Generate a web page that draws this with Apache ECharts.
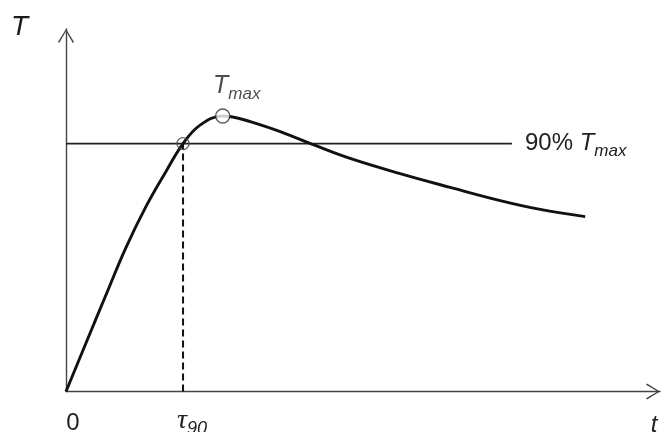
<!DOCTYPE html>
<html><head><meta charset="utf-8">
<script src="https://cdn.jsdelivr.net/npm/echarts@6/dist/echarts.min.js"></script>
<style>html,body{margin:0;padding:0;background:#fff}#c{width:661px;height:432px}</style>
</head><body><div id="c"></div>
<script>
// time values along the curve (arbitrary units)
const curveTime = [0, 3.42, 6.84, 10.26, 13.68, 17.09, 20.0, 22.91, 26.78, 31.62, 37.26, 42.0, 48.55, 57.09, 65.64, 74.19, 81.03, 88.72];
// T values (percent of Tmax)
const curveTemp = [0, 17.6, 35.1, 52.3, 67.2, 79.9, 90.0, 96.7, 100, 97.9, 93.8, 89.8, 84.6, 79.1, 74.1, 69.3, 66.1, 63.5];
const tau90 = 20;
const tPeak = 26.78;
const Tmax = 100;
const levelRatio = 0.9;
const levelLineEnd = 76.2;
const xMax = 101.5;
const yMax = 131.6;
const xTickValues = [0, 20];
const xTickLabels = ['{z|0}', '{tau|τ}{sub|90}'];
const levelLabel = '{a|90% }{t|T}{s|max}';
const peakLabel = '{t|T}{s|max}';

const level = levelRatio * Tmax;
const FONT = 'Liberation Sans';
const arrow = 'path://M8,0 L16,13 L14.8,14 L8,2.3 L1.2,14 L0,13 Z';

const chart = echarts.init(document.getElementById('c'));
chart.setOption({
  animation: false,
  backgroundColor: '#fff',
  grid: { left: 66, right: 1, top: 29, bottom: 40.5, containLabel: false, outerBoundsMode: 'none' },
  xAxis: {
    type: 'value', min: 0, max: xMax, interval: 20,
    name: 't', nameLocation: 'end', nameGap: -6,
    nameTextStyle: { fontFamily: FONT, fontSize: 24, fontStyle: 'italic', color: '#222', align: 'center', verticalAlign: 'top', padding: [22, 0, 0, 0] },
    axisLine: { show: true, symbol: ['none', arrow], symbolSize: [16, 14], symbolOffset: [0, -7], lineStyle: { color: '#444', width: 1.4 } },
    axisTick: { show: false },
    splitLine: { show: false },
    axisLabel: {
      show: true, margin: 12, showMaxLabel: false, hideOverlap: false,
      formatter: v => { const i = xTickValues.indexOf(v); return i >= 0 ? xTickLabels[i] : ''; },
      rich: {
        z: { fontFamily: FONT, fontSize: 24, color: '#222', padding: [8, 0, 0, 14] },
        tau: { fontFamily: 'Liberation Serif', fontSize: 28, fontStyle: 'italic', color: '#222', padding: [0, 0, 0, 18] },
        sub: { fontFamily: FONT, fontSize: 18, fontStyle: 'italic', color: '#222', padding: [16, 0, 0, 0] }
      }
    }
  },
  yAxis: {
    type: 'value', min: 0, max: yMax,
    name: 'T', nameLocation: 'end', nameGap: 2,
    nameTextStyle: { fontFamily: FONT, fontSize: 28, fontStyle: 'italic', color: '#1a1a1a', align: 'right', verticalAlign: 'middle', padding: [0, 38, 0, 0] },
    axisLine: { show: true, symbol: ['none', arrow], symbolSize: [16, 14], symbolOffset: [0, -7], lineStyle: { color: '#444', width: 1.4 } },
    axisTick: { show: false },
    splitLine: { show: false },
    axisLabel: { show: false }
  },
  series: [
    {
      type: 'line', z: 2, symbol: 'none', silent: true,
      data: [[0, level], [levelLineEnd, level]],
      lineStyle: { color: '#222', width: 1.6 },
      endLabel: {
        show: true, distance: 13, formatter: levelLabel,
        rich: {
          a: { fontFamily: FONT, fontSize: 24, color: '#222' },
          t: { fontFamily: FONT, fontSize: 24, fontStyle: 'italic', color: '#222' },
          s: { fontFamily: FONT, fontSize: 17, fontStyle: 'italic', color: '#222', padding: [16, 0, 0, 0] }
        }
      }
    },
    {
      type: 'line', z: 2, symbol: 'none', silent: true,
      data: [[tau90, 0], [tau90, level]],
      lineStyle: { color: '#111', width: 2, type: [7, 4] }
    },
    {
      type: 'line', z: 3, symbol: 'none', smooth: 0.4, silent: true,
      data: curveTime.map((t, i) => [t, curveTemp[i]]),
      lineStyle: { color: '#111', width: 2.9 }
    },
    {
      type: 'scatter', z: 5, silent: true,
      data: [
        { value: [tau90, level], symbolSize: 12, itemStyle: { color: 'rgba(0,0,0,0)', borderColor: '#444', borderWidth: 1.4 } },
        { value: [tPeak, Tmax], symbolSize: 14, itemStyle: { color: '#fff', borderColor: '#333', borderWidth: 1.4 },
          label: {
            show: true, position: 'top', distance: 6, offset: [14, 0], formatter: peakLabel,
            rich: {
              t: { fontFamily: FONT, fontSize: 25, fontStyle: 'italic', color: '#222' },
              s: { fontFamily: FONT, fontSize: 17, fontStyle: 'italic', color: '#222', padding: [16, 0, 0, 0] }
            }
          }
        }
      ]
    }
  ]
});
</script></body></html>
